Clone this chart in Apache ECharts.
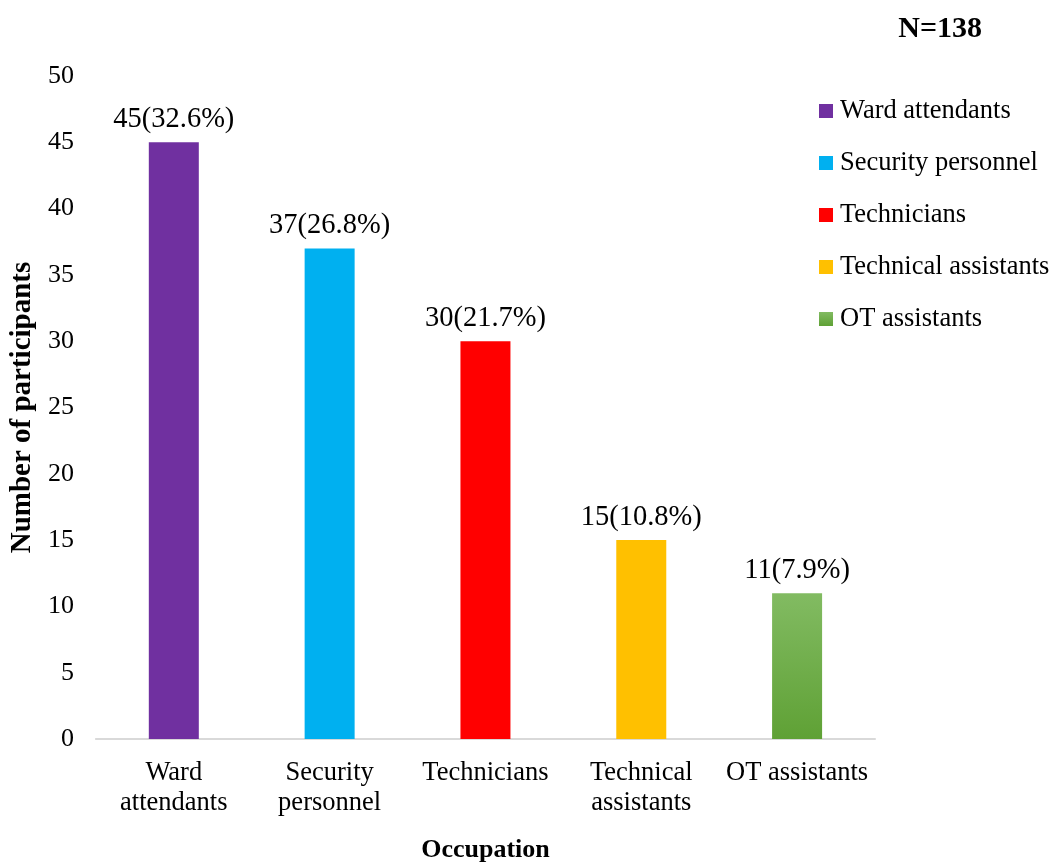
<!DOCTYPE html>
<html>
<head>
<meta charset="utf-8">
<script src="https://cdn.jsdelivr.net/npm/echarts@6/dist/echarts.min.js"></script>
<style>
html,body{margin:0;padding:0;background:#fff;}
#chart{width:1051px;height:868px;}
</style>
</head>
<body>
<div id="chart"></div>
<script>
var categories = ['Ward attendants', 'Security personnel', 'Technicians', 'Technical assistants', 'OT assistants'];
var axisLabels = ['Ward\nattendants', 'Security\npersonnel', 'Technicians', 'Technical\nassistants', 'OT assistants'];
var counts = [45, 37, 30, 15, 11];
var percents = ['32.6%', '26.8%', '21.7%', '10.8%', '7.9%'];
var yTicks = [0, 5, 10, 15, 20, 25, 30, 35, 40, 45, 50];

var FONT = '"Liberation Serif", "Times New Roman", serif';
var colors = [
  '#7030A0',
  '#00B0F0',
  '#FF0000',
  '#FFC000',
  new echarts.graphic.LinearGradient(0, 0, 0, 1, [
    {offset: 0, color: '#82BB62'},
    {offset: 1, color: '#5FA135'}
  ])
];

var series = categories.map(function (name, i) {
  var data = categories.map(function (c, j) { return j === i ? counts[i] : '-'; });
  return {
    name: name,
    type: 'bar',
    stack: 'all',
    barWidth: 50,
    data: data,
    itemStyle: {color: colors[i]},
    label: {
      show: true,
      position: 'top',
      distance: 8,
      fontFamily: FONT,
      fontSize: 28.5,
      color: '#000',
      formatter: function (p) { return p.value + '(' + percents[i] + ')'; }
    }
  };
});

var chart = echarts.init(document.getElementById('chart'), null, {renderer: 'canvas'});
chart.setOption({
  animation: false,
  backgroundColor: '#fff',
  title: {
    text: 'N=138',
    right: 64,
    top: 9,
    textStyle: {fontFamily: FONT, fontSize: 30, fontWeight: 'bold', color: '#000'}
  },
  legend: {
    orient: 'vertical',
    left: 814,
    top: 92,
    itemWidth: 14,
    itemHeight: 14,
    itemGap: 24,
    icon: 'rect',
    data: categories,
    textStyle: {fontFamily: FONT, fontSize: 26.5, color: '#000', lineHeight: 28, padding: [0, 0, 0, 2]}
  },
  grid: {left: 95, right: 176, top: 76, bottom: 119, containLabel: false},
  xAxis: {
    type: 'category',
    data: axisLabels,
    name: 'Occupation',
    nameLocation: 'middle',
    nameGap: 98,
    nameTextStyle: {fontFamily: FONT, fontSize: 26, fontWeight: 'bold', color: '#000'},
    axisLine: {lineStyle: {color: '#D9D9D9', width: 2}},
    axisTick: {show: false},
    axisLabel: {fontFamily: FONT, fontSize: 26.5, color: '#000', lineHeight: 30, margin: 19, interval: 0}
  },
  yAxis: {
    type: 'value',
    min: yTicks[0],
    max: yTicks[yTicks.length - 1],
    interval: yTicks[1] - yTicks[0],
    name: 'Number of participants',
    nameLocation: 'middle',
    nameGap: 58,
    nameTextStyle: {fontFamily: FONT, fontSize: 29, fontWeight: 'bold', color: '#000'},
    axisLine: {show: false},
    axisTick: {show: false},
    splitLine: {show: false},
    axisLabel: {fontFamily: FONT, fontSize: 26, color: '#000', margin: 22}
  },
  series: series
});
</script>
</body>
</html>
